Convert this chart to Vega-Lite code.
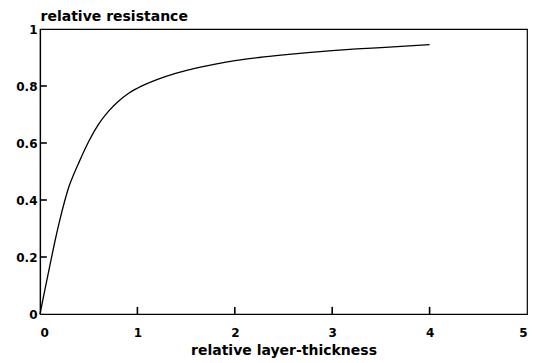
{
  "$schema": "https://vega.github.io/schema/vega-lite/v6.json",
  "autosize": "none",
  "width": 487,
  "height": 285,
  "padding": {"left": 40, "top": 29, "right": 11, "bottom": 49},
  "background": "white",
  "config": {
    "view": {"stroke": "black", "strokeWidth": 1.2},
    "font": "DejaVu Sans",
    "axis": {
      "domainColor": "black",
      "domainWidth": 1.2,
      "ticks": false,
      "tickSize": 0,
      "grid": false,
      "labelFont": "DejaVu Sans",
      "labelFontWeight": "bold",
      "labelFontSize": 12,
      "labelColor": "black",
      "titleFont": "DejaVu Sans",
      "titleFontWeight": "bold",
      "titleFontSize": 14,
      "titleColor": "black"
    }
  },
  "datasets": {
    "curve": [
      {"t": 0, "r": 0},
      {"t": 0.05, "r": 0.085},
      {"t": 0.1, "r": 0.168},
      {"t": 0.15, "r": 0.25},
      {"t": 0.2, "r": 0.325},
      {"t": 0.25, "r": 0.392},
      {"t": 0.3, "r": 0.45},
      {"t": 0.35, "r": 0.493},
      {"t": 0.4, "r": 0.532},
      {"t": 0.5, "r": 0.605},
      {"t": 0.6, "r": 0.665},
      {"t": 0.7, "r": 0.71},
      {"t": 0.8, "r": 0.745},
      {"t": 0.9, "r": 0.772},
      {"t": 1.0, "r": 0.792},
      {"t": 1.2, "r": 0.822},
      {"t": 1.4, "r": 0.845},
      {"t": 1.6, "r": 0.863},
      {"t": 1.8, "r": 0.877},
      {"t": 2.0, "r": 0.889},
      {"t": 2.25, "r": 0.9},
      {"t": 2.5, "r": 0.909},
      {"t": 2.75, "r": 0.917},
      {"t": 3.0, "r": 0.924},
      {"t": 3.25, "r": 0.93},
      {"t": 3.5, "r": 0.935},
      {"t": 3.75, "r": 0.94},
      {"t": 4.0, "r": 0.945}
    ],
    "xticks": [{"t": 1}, {"t": 2}, {"t": 3}, {"t": 4}],
    "yticks": [{"r": 0.2}, {"r": 0.4}, {"r": 0.6}, {"r": 0.8}]
  },
  "layer": [
    {
      "data": {"name": "curve"},
      "mark": {"type": "line", "color": "black", "strokeWidth": 1.3, "interpolate": "monotone"},
      "encoding": {
        "x": {
          "field": "t",
          "type": "quantitative",
          "title": "relative layer-thickness",
          "scale": {"domain": [0, 5], "nice": false},
          "axis": {
            "values": [0, 1, 2, 3, 4, 5],
            "format": "d",
            "labelPadding": 13,
            "titlePadding": 5
          }
        },
        "y": {
          "field": "r",
          "type": "quantitative",
          "title": "relative resistance",
          "scale": {"domain": [0, 1], "nice": false},
          "axis": {
            "values": [0, 0.2, 0.4, 0.6, 0.8, 1],
            "format": "~g",
            "labelPadding": 3,
            "titleAngle": 0,
            "titleAlign": "left",
            "titleBaseline": "alphabetic",
            "titleX": 0,
            "titleY": -9
          }
        }
      }
    },
    {
      "data": {"name": "xticks"},
      "mark": {"type": "rule", "color": "black", "strokeWidth": 1.6},
      "encoding": {
        "x": {"field": "t", "type": "quantitative", "title": "relative layer-thickness"},
        "y": {"datum": 0, "type": "quantitative", "title": "relative resistance"},
        "y2": {"datum": 0.025}
      }
    },
    {
      "data": {"name": "yticks"},
      "mark": {"type": "rule", "color": "black", "strokeWidth": 1.6},
      "encoding": {
        "y": {"field": "r", "type": "quantitative", "title": "relative resistance"},
        "x": {"datum": 0, "type": "quantitative", "title": "relative layer-thickness"},
        "x2": {"datum": 0.07}
      }
    }
  ]
}
